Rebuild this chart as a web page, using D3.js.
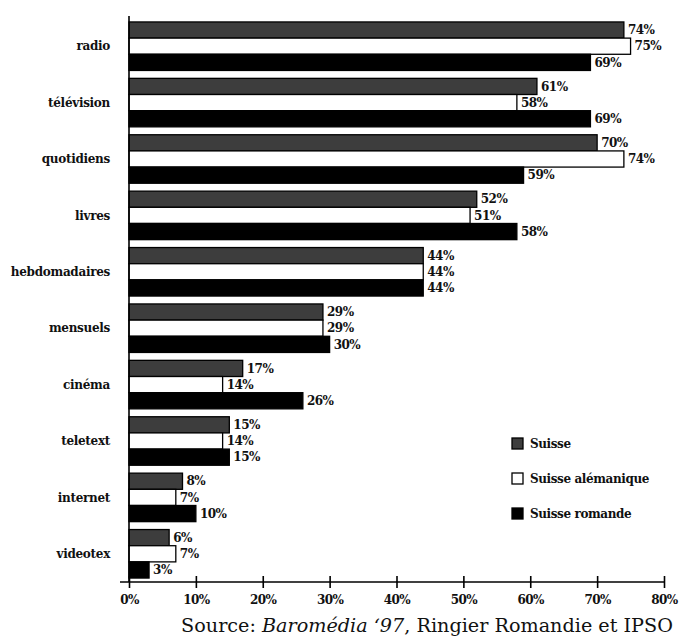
<!DOCTYPE html>
<html>
<head>
<meta charset="utf-8">
<script src="https://cdn.jsdelivr.net/npm/d3@7"></script>
<style>
  body { margin: 0; background: #fff; }
  text { font-family: "DejaVu Serif", serif; fill: #111; }
</style>
</head>
<body>
<script>
// catégories et valeurs (%)
var categories = ["radio", "télévision", "quotidiens", "livres", "hebdomadaires",
                  "mensuels", "cinéma", "teletext", "internet", "videotex"];
var suisse     = [74, 61, 70, 52, 44, 29, 17, 15, 8, 6];
var alemanique = [75, 58, 74, 51, 44, 29, 14, 14, 7, 7];
var romande    = [69, 69, 59, 58, 44, 30, 26, 15, 10, 3];
var seriesNames = ["Suisse", "Suisse alémanique", "Suisse romande"];
var seriesFill  = ["#3d3d3d", "#ffffff", "#000000"];
var tickValues  = [0, 10, 20, 30, 40, 50, 60, 70, 80];

var svgWidth = 679, svgHeight = 639;
var svg = d3.select("body").append("svg")
    .attr("width", svgWidth)
    .attr("height", svgHeight);

var x = d3.scaleLinear().domain([0, 80]).range([129, 664]);
var y = d3.scaleBand().domain(categories).range([18, 582])
    .paddingInner(0.14).paddingOuter(0.07);
var ySub = d3.scaleBand().domain(d3.range(3)).range([0, y.bandwidth()]);

var series = [suisse, alemanique, romande];
var rows = [];
categories.forEach(function(c, i){
  series.forEach(function(s, j){
    rows.push({cat: c, k: j, v: s[i]});
  });
});

// barres
svg.selectAll(".bar")
  .data(rows)
  .enter()
  .append("rect")
  .attr("class", "bar")
  .attr("x", x(0))
  .attr("y", function(d){ return y(d.cat) + ySub(d.k); })
  .attr("width", function(d){ return x(d.v) - x(0); })
  .attr("height", ySub.bandwidth())
  .attr("fill", function(d){ return seriesFill[d.k]; })
  .attr("stroke", "#000")
  .attr("stroke-width", 1.3);

// valeurs
svg.selectAll(".val")
  .data(rows)
  .enter()
  .append("text")
  .attr("class", "val")
  .attr("x", function(d){ return x(d.v) + 4; })
  .attr("y", function(d){ return y(d.cat) + ySub(d.k) + ySub.bandwidth()/2; })
  .attr("dy", "0.35em")
  .attr("font-size", "12px")
  .attr("font-weight", "bold")
  .attr("letter-spacing", "-0.5px")
  .text(function(d){ return d.v + "%"; });

// axe vertical
svg.append("line")
  .attr("x1", x(0)).attr("x2", x(0))
  .attr("y1", 16).attr("y2", 582)
  .attr("stroke", "#000").attr("stroke-width", 1.6);

// libellés des catégories
svg.selectAll(".cat")
  .data(categories)
  .enter()
  .append("text")
  .attr("class", "cat")
  .attr("x", 110)
  .attr("y", function(d){ return y(d) + y.bandwidth()/2; })
  .attr("dy", "0.35em")
  .attr("text-anchor", "end")
  .attr("font-size", "12px")
  .attr("font-weight", "bold")
  .attr("letter-spacing", "-0.3px")
  .text(function(d){ return d; });

// axe horizontal
var gx = svg.append("g")
  .attr("transform", "translate(0,582)")
  .call(d3.axisBottom(x)
          .tickValues(tickValues)
          .tickSizeOuter(0)
          .tickSize(6)
          .tickFormat(function(d){ return d + "%"; }));
gx.select(".domain").remove();
gx.append("line")
  .attr("x1", 120).attr("x2", x(80))
  .attr("stroke", "#000").attr("stroke-width", 1.6);
gx.selectAll(".tick line").attr("y1", -6).attr("y2", 6)
  .attr("stroke", "#000").attr("stroke-width", 1.6);
gx.selectAll(".tick text")
  .attr("y", 13)
  .attr("font-family", "DejaVu Serif, serif")
  .attr("font-size", "12px")
  .attr("font-weight", "bold")
  .attr("letter-spacing", "-0.6px")
  .attr("fill", "#111");

// légende
var legend = svg.selectAll(".legend")
  .data(seriesNames)
  .enter()
  .append("g")
  .attr("class", "legend")
  .attr("transform", function(d, i){ return "translate(512," + (438 + i*35) + ")"; });
legend.append("rect")
  .attr("width", 11).attr("height", 11)
  .attr("fill", function(d, i){ return seriesFill[i]; })
  .attr("stroke", "#000").attr("stroke-width", 1.3);
legend.append("text")
  .attr("x", 18).attr("y", 5.5).attr("dy", "0.35em")
  .attr("font-size", "12px")
  .attr("font-weight", "bold")
  .attr("letter-spacing", "-0.4px")
  .text(function(d){ return d; });

// source
var src = svg.append("text")
  .attr("x", 427).attr("y", 632)
  .attr("text-anchor", "middle")
  .attr("font-family", "DejaVu Sans, sans-serif")
  .attr("font-size", "19.2px");
src.append("tspan").text("Source: ");
src.append("tspan").attr("font-style", "italic").text("Baromédia ‘97");
src.append("tspan").text(", Ringier Romandie et IPSO");
</script>
</body>
</html>
